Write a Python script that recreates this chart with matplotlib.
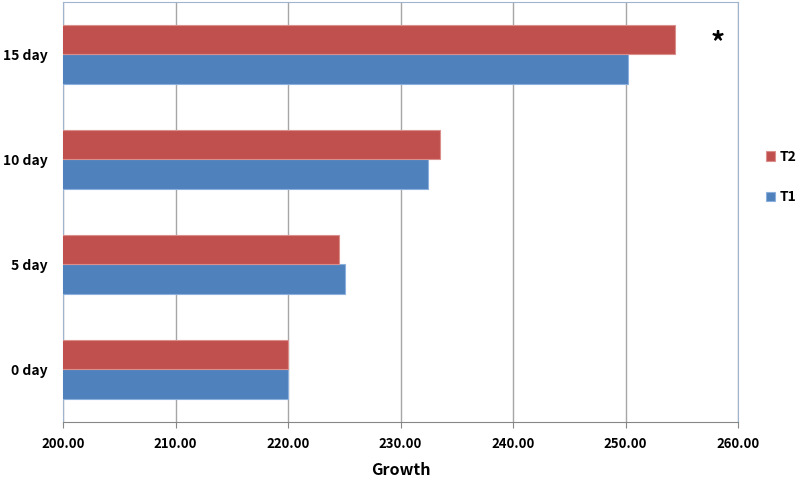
import matplotlib
matplotlib.use("Agg")
import matplotlib.pyplot as plt
import numpy as np

categories = ["0 day", "5 day", "10 day", "15 day"]
t1 = [220.0, 225.1, 232.4, 250.2]
t2 = [220.0, 224.5, 233.5, 254.4]
xticks = [200, 210, 220, 230, 240, 250, 260]

plt.rcParams['font.family'] = ['Noto Sans CJK KR', 'DejaVu Sans']

fig = plt.figure(figsize=(8, 4.79), dpi=100)
ax = fig.add_axes([0.07875, 0.119, 0.84375, 0.877])

y = np.arange(len(categories))
h = 0.28
ax.barh(y - h/2, t1, height=h, left=0, color='#4F81BD', edgecolor='#8CB0DC', linewidth=0.8, label='T1', zorder=3)
ax.barh(y + h/2, t2, height=h, left=0, color='#C0504D', edgecolor='#DA8F8D', linewidth=0.8, label='T2', zorder=3)

ax.set_xlim(200, 260)
ax.set_ylim(-0.5, 3.5)
ax.set_xticks(xticks)
ax.set_xticklabels([f"{v:.2f}" for v in xticks], fontsize=9.5, fontweight='bold')
ax.set_yticks(y)
ax.set_yticklabels(categories, fontsize=10, fontweight='bold')
ax.tick_params(axis='y', length=0, pad=11)
ax.tick_params(axis='x', length=4, color='#868686', pad=7)
ax.grid(axis='x', color='#A6A6A6', linewidth=1, zorder=0)
for s in ax.spines.values():
    s.set_color('#A0B4D0')
ax.spines['bottom'].set_color('#868686')
ax.set_xlabel("Growth", fontsize=11.5, fontweight='bold', labelpad=8)

ax.text(258.2, 3.11, "*", fontsize=20, fontweight='bold', ha='center', va='center')

handles, labels = ax.get_legend_handles_labels()
leg = fig.legend(handles[::-1], labels[::-1], loc='center left', bbox_to_anchor=(0.957, 0.63),
                 frameon=False, handlelength=0.7, handleheight=0.7, handletextpad=0.3,
                 borderpad=0, borderaxespad=0,
                 labelspacing=1.9, prop={'weight': 'bold', 'size': 10})

fig.savefig("out.png", dpi=100)
